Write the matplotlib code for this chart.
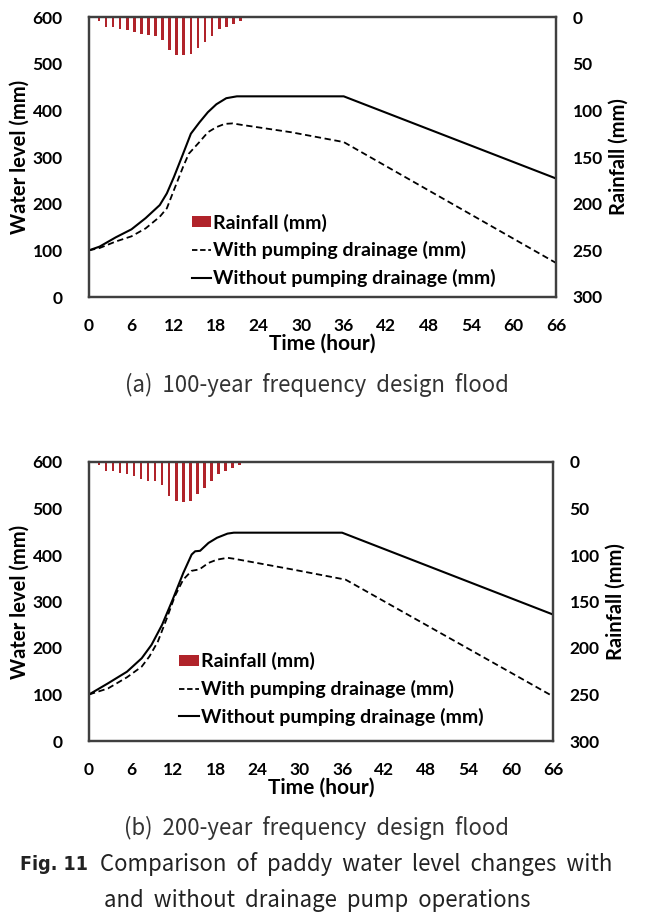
import matplotlib
matplotlib.use("Agg")
import numpy as np
from matplotlib import pyplot as plt
from matplotlib.patches import Patch
from matplotlib.lines import Line2D

# rainfall hyetograph (mm), hourly bars from hour 1 to 21
rain_hours = np.arange(1, 22) + 0.4
rain_100 = [4.6, 10.7, 10.7, 12.5, 14.0, 15.7, 17.9, 19.6, 20.0, 24.3, 35.0,
            40.4, 40.4, 39.3, 33.2, 26.8, 20.0, 12.9, 10.7, 7.5, 4.6]
rain_200 = [2.9, 10.0, 10.0, 12.2, 13.3, 15.4, 18.3, 20.4, 20.4, 25.0, 36.9,
            42.3, 43.0, 41.9, 34.8, 28.3, 20.8, 12.9, 10.0, 6.8, 3.6]

# water level (mm), (a) 100-year flood
t_a_without = [0, 1.5, 3.8, 6, 8, 10, 11, 12, 13.3, 14.4, 15.6, 16.8, 18, 19.4, 20.9, 36, 66]
wl_a_without = [100, 108, 128, 145, 169, 197, 222, 257, 307, 350, 374, 396, 413, 426, 430, 430, 254]
t_a_with = [0, 1.5, 3.8, 6, 8, 10, 11, 12, 13.3, 14.1, 15.6, 16.8, 18, 19.2, 20.3, 21.5, 28.6, 36, 66]
wl_a_with = [100, 105, 119, 130, 147, 172, 190, 229, 279, 307, 332, 353, 364, 371, 372, 369, 353, 332, 73]

# water level (mm), (b) 200-year flood
t_b_without = [0, 2.7, 5.4, 7.5, 8.9, 10.4, 11.9, 13.4, 14.6, 15.1, 15.8, 17, 18.2, 19.7, 20.6, 36, 66]
wl_b_without = [100, 124, 149, 178, 207, 250, 304, 361, 401, 408, 409, 426, 437, 446, 448, 448, 272]
t_b_with = [0, 2.7, 5.4, 7.5, 8.6, 9.8, 11, 12.2, 13.4, 14.6, 15.7, 17, 18.2, 19.7, 20.6, 28.9, 36.5, 66]
wl_b_with = [100, 113, 137, 160, 182, 214, 261, 311, 347, 366, 369, 383, 390, 394, 392, 369, 347, 96]

x_ticks = np.arange(0, 67, 6)
bar_color = "#b0232a"
spine_color = "#3f3f3f"
font = "Lato"


def flood_panel(fig, rect, rain, t_with, wl_with, t_without, wl_without, legend_x, legend_y):
    ax = fig.add_axes(rect)
    ax2 = ax.twinx()
    ax2.bar(rain_hours, rain, width=0.38, color=bar_color, zorder=1)
    ax2.set_ylim(300, 0)
    ax.set_zorder(ax2.get_zorder() + 1)
    ax.patch.set_visible(False)

    ax.plot(t_with, wl_with, color="black", lw=1.3, ls=(0, (3.5, 2)))
    ax.plot(t_without, wl_without, color="black", lw=1.5)
    ax.set_xlim(0, 66)
    ax.set_ylim(0, 600)
    ax.set_xticks(x_ticks)
    ax.set_yticks(np.arange(0, 601, 100))
    ax2.set_yticks(np.arange(0, 301, 50))

    for a in (ax, ax2):
        a.tick_params(length=0, labelsize=12.5)
        for lbl in a.get_xticklabels() + a.get_yticklabels():
            lbl.set_fontweight("bold")
            lbl.set_family(font)
        for sp in a.spines.values():
            sp.set_color(spine_color)
            sp.set_linewidth(1.6)
    ax.tick_params(axis="y", pad=19)
    ax.tick_params(axis="x", pad=15)
    ax2.tick_params(axis="y", pad=12)

    ax.set_xlabel("Time (hour)", fontsize=15, fontweight="bold", family=font, labelpad=0)
    ax.set_ylabel("Water level (mm)", fontsize=14.5, fontweight="bold", family=font, labelpad=2)
    ax2.set_ylabel("Rainfall (mm)", fontsize=14.5, fontweight="bold", family=font, labelpad=4)

    handles = [Patch(facecolor=bar_color, edgecolor="none"),
               Line2D([], [], color="black", lw=1.3, ls=(0, (3, 1.5))),
               Line2D([], [], color="black", lw=1.5)]
    labels = ["Rainfall (mm)", "With pumping drainage (mm)", "Without pumping drainage (mm)"]
    ax.legend(handles, labels, loc="lower left", bbox_to_anchor=(legend_x, legend_y),
              frameon=False, handlelength=1.0, handleheight=0.5, handletextpad=0.1,
              labelspacing=0.5, borderpad=0, borderaxespad=0,
              prop={"family": font, "weight": "bold", "size": 14})
    return ax


fig = plt.figure(figsize=(6.48, 9.17), dpi=100)
W, H = 648, 917

flood_panel(fig, [89 / W, 1 - 297 / H, 467 / W, 280 / H], rain_100,
            t_a_with, wl_a_with, t_a_without, wl_a_without, 0.22, 0.035)
flood_panel(fig, [89 / W, 1 - 741 / H, 464 / W, 279 / H], rain_200,
            t_b_with, wl_b_with, t_b_without, wl_b_without, 0.195, 0.055)

cap_font = "Noto Sans CJK KR"
fig.text(317 / W, 1 - 385 / H, "(a)  100-year  frequency  design  flood", ha="center", va="center",
         fontsize=16, family=cap_font, color="#333333")
fig.text(317 / W, 1 - 828 / H, "(b)  200-year  frequency  design  flood", ha="center", va="center",
         fontsize=16, family=cap_font, color="#333333")
fig.text(20 / W, 1 - 864 / H, "Fig. 11", ha="left", va="center", fontsize=14,
         fontweight="bold", family="DejaVu Sans", fontstretch="condensed", color="#222222")
fig.text(612 / W, 1 - 864 / H, "Comparison  of  paddy  water  level  changes  with", ha="right", va="center",
         fontsize=16, family=cap_font, color="#222222")
fig.text(317 / W, 1 - 900 / H, "and  without  drainage  pump  operations", ha="center", va="center",
         fontsize=16, family=cap_font, color="#222222")

fig.savefig("out.png", dpi=100)
